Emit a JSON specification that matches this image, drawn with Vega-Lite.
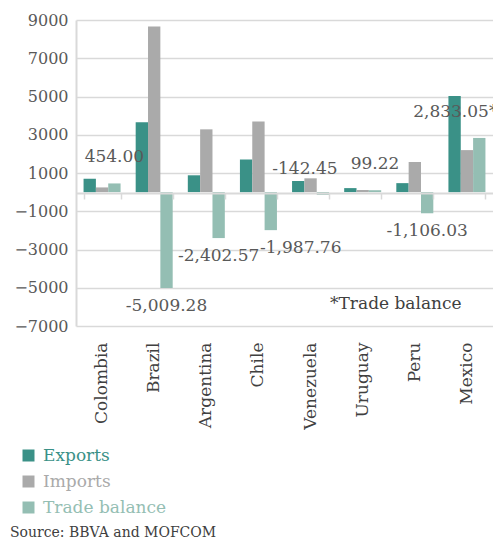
{
  "$schema": "https://vega.github.io/schema/vega-lite/v6.json",
  "width": 417,
  "height": 306,
  "autosize": {"type": "none"},
  "padding": {"left": 76, "top": 20, "right": 0, "bottom": 213},
  "config": {"font": "DejaVu Serif", "view": {"stroke": null}},
  "title": {"text": "Source: BBVA and MOFCOM", "orient": "bottom", "anchor": "start", "frame": "group", "fontSize": 14, "fontWeight": "normal", "color": "#404040", "dx": -66, "offset": 10},
  "datasets": {
    "trade": [
      {"country": "Colombia", "series": "Exports", "value": 700},
      {"country": "Colombia", "series": "Imports", "value": 246},
      {"country": "Colombia", "series": "Trade balance", "value": 454.0, "label": "454.00"},
      {"country": "Brazil", "series": "Exports", "value": 3650},
      {"country": "Brazil", "series": "Imports", "value": 8659},
      {"country": "Brazil", "series": "Trade balance", "value": -5009.28, "label": "-5,009.28"},
      {"country": "Argentina", "series": "Exports", "value": 880},
      {"country": "Argentina", "series": "Imports", "value": 3283},
      {"country": "Argentina", "series": "Trade balance", "value": -2402.57, "label": "-2,402.57"},
      {"country": "Chile", "series": "Exports", "value": 1700},
      {"country": "Chile", "series": "Imports", "value": 3688},
      {"country": "Chile", "series": "Trade balance", "value": -1987.76, "label": "-1,987.76"},
      {"country": "Venezuela", "series": "Exports", "value": 580},
      {"country": "Venezuela", "series": "Imports", "value": 722},
      {"country": "Venezuela", "series": "Trade balance", "value": -142.45, "label": "-142.45"},
      {"country": "Uruguay", "series": "Exports", "value": 210},
      {"country": "Uruguay", "series": "Imports", "value": 111},
      {"country": "Uruguay", "series": "Trade balance", "value": 99.22, "label": "99.22"},
      {"country": "Peru", "series": "Exports", "value": 470},
      {"country": "Peru", "series": "Imports", "value": 1576},
      {"country": "Peru", "series": "Trade balance", "value": -1106.03, "label": "-1,106.03"},
      {"country": "Mexico", "series": "Exports", "value": 5030},
      {"country": "Mexico", "series": "Imports", "value": 2197},
      {"country": "Mexico", "series": "Trade balance", "value": 2833.05, "label": "2,833.05*"}
    ]
  },
  "resolve": {"axis": {"x": "independent"}},
  "layer": [
    {
      "data": {"name": "trade"},
      "mark": {"type": "bar"},
      "encoding": {
        "x": {
          "field": "country", "type": "nominal",
          "scale": {"domain": ["Colombia", "Brazil", "Argentina", "Chile", "Venezuela", "Uruguay", "Peru", "Mexico"], "paddingInner": 0.29, "paddingOuter": 0.145},
          "axis": {"orient": "bottom", "title": null, "labelAngle": -90, "labelFontSize": 17, "labelColor": "#404040", "labelPadding": 16, "domain": false, "ticks": false, "grid": false}
        },
        "xOffset": {"field": "series", "type": "nominal", "scale": {"domain": ["Exports", "Imports", "Trade balance"], "paddingInner": 0, "paddingOuter": 0}},
        "y": {
          "field": "value", "type": "quantitative",
          "scale": {"domain": [-7000, 9000], "nice": false, "zero": false},
          "axis": {"title": null, "values": [-7000, -5000, -3000, -1000, 1000, 3000, 5000, 7000, 9000], "format": "d", "labelOverlap": false, "grid": true, "gridColor": "#d9d9d9", "gridWidth": 1.5, "domain": true, "domainColor": "#d9d9d9", "domainWidth": 2, "ticks": false, "labelFontSize": 16, "labelColor": "#595959", "labelPadding": 8}
        },
        "color": {
          "field": "series", "type": "nominal",
          "scale": {"domain": ["Exports", "Imports", "Trade balance"], "range": ["#3a9187", "#aaaaaa", "#94beb3"]},
          "legend": {
            "orient": "none", "legendX": -56, "legendY": 427, "title": null, "direction": "vertical",
            "symbolType": "square", "symbolSize": 144, "symbolStrokeWidth": 0, "symbolOpacity": 1,
            "labelFontSize": 17, "labelOffset": 6, "rowPadding": 8, "padding": 0,
            "encode": {"labels": {"update": {"fill": {"signal": "datum.label === 'Exports' ? '#3a9187' : datum.label === 'Imports' ? '#aaaaaa' : '#94beb3'"}}}}
          }
        }
      }
    },
    {
      "data": {"name": "trade"},
      "mark": {"type": "point", "opacity": 0},
      "encoding": {
        "x": {
          "field": "country", "type": "nominal",
          "axis": {"orient": "bottom", "offset": -133, "title": null, "labels": false, "domain": true, "domainColor": "#d9d9d9", "domainWidth": 2, "ticks": true, "tickBand": "extent", "tickColor": "#d9d9d9", "tickWidth": 1.5, "tickSize": 6, "grid": false, "zindex": 1}
        },
        "y": {
          "datum": 0, "type": "quantitative",
          "axis": {"title": null, "values": [-7000, -5000, -3000, -1000, 1000, 3000, 5000, 7000, 9000], "format": "d", "labelOverlap": false, "grid": true, "gridColor": "#d9d9d9", "gridWidth": 1.5, "domain": true, "domainColor": "#d9d9d9", "domainWidth": 2, "ticks": false, "labelFontSize": 16, "labelColor": "#595959", "labelPadding": 8}
        }
      }
    },
    {
      "data": {"name": "trade"},
      "transform": [{"filter": "datum.series === 'Trade balance' && datum.value > -500"}],
      "mark": {"type": "text", "fontSize": 17, "color": "#595959", "baseline": "middle", "dy": -26, "dx": {"expr": "datum.country === 'Venezuela' ? -18 : datum.country === 'Mexico' ? -24 : 0"}},
      "encoding": {
        "x": {"field": "country", "type": "nominal", "axis": null},
        "xOffset": {"field": "series", "type": "nominal"},
        "y": {
          "field": "value", "type": "quantitative",
          "axis": {"title": null, "values": [-7000, -5000, -3000, -1000, 1000, 3000, 5000, 7000, 9000], "format": "d", "labelOverlap": false, "grid": true, "gridColor": "#d9d9d9", "gridWidth": 1.5, "domain": true, "domainColor": "#d9d9d9", "domainWidth": 2, "ticks": false, "labelFontSize": 16, "labelColor": "#595959", "labelPadding": 8}
        },
        "text": {"field": "label"}
      }
    },
    {
      "data": {"name": "trade"},
      "transform": [{"filter": "datum.series === 'Trade balance' && datum.value <= -500"}],
      "mark": {"type": "text", "fontSize": 17, "color": "#595959", "baseline": "middle", "dy": 18, "dx": {"expr": "datum.country === 'Chile' ? 30 : 0"}},
      "encoding": {
        "x": {"field": "country", "type": "nominal", "axis": null},
        "xOffset": {"field": "series", "type": "nominal"},
        "y": {
          "field": "value", "type": "quantitative",
          "axis": {"title": null, "values": [-7000, -5000, -3000, -1000, 1000, 3000, 5000, 7000, 9000], "format": "d", "labelOverlap": false, "grid": true, "gridColor": "#d9d9d9", "gridWidth": 1.5, "domain": true, "domainColor": "#d9d9d9", "domainWidth": 2, "ticks": false, "labelFontSize": 16, "labelColor": "#595959", "labelPadding": 8}
        },
        "text": {"field": "label"}
      }
    },
    {
      "data": {"values": [{"country": "Peru", "value": -5870, "note": "*Trade balance"}]},
      "mark": {"type": "text", "fontSize": 17, "color": "#404040", "baseline": "middle", "dx": -19},
      "encoding": {
        "x": {"field": "country", "type": "nominal", "axis": null},
        "y": {
          "field": "value", "type": "quantitative",
          "axis": {"title": null, "values": [-7000, -5000, -3000, -1000, 1000, 3000, 5000, 7000, 9000], "format": "d", "labelOverlap": false, "grid": true, "gridColor": "#d9d9d9", "gridWidth": 1.5, "domain": true, "domainColor": "#d9d9d9", "domainWidth": 2, "ticks": false, "labelFontSize": 16, "labelColor": "#595959", "labelPadding": 8}
        },
        "text": {"field": "note"}
      }
    }
  ]
}
